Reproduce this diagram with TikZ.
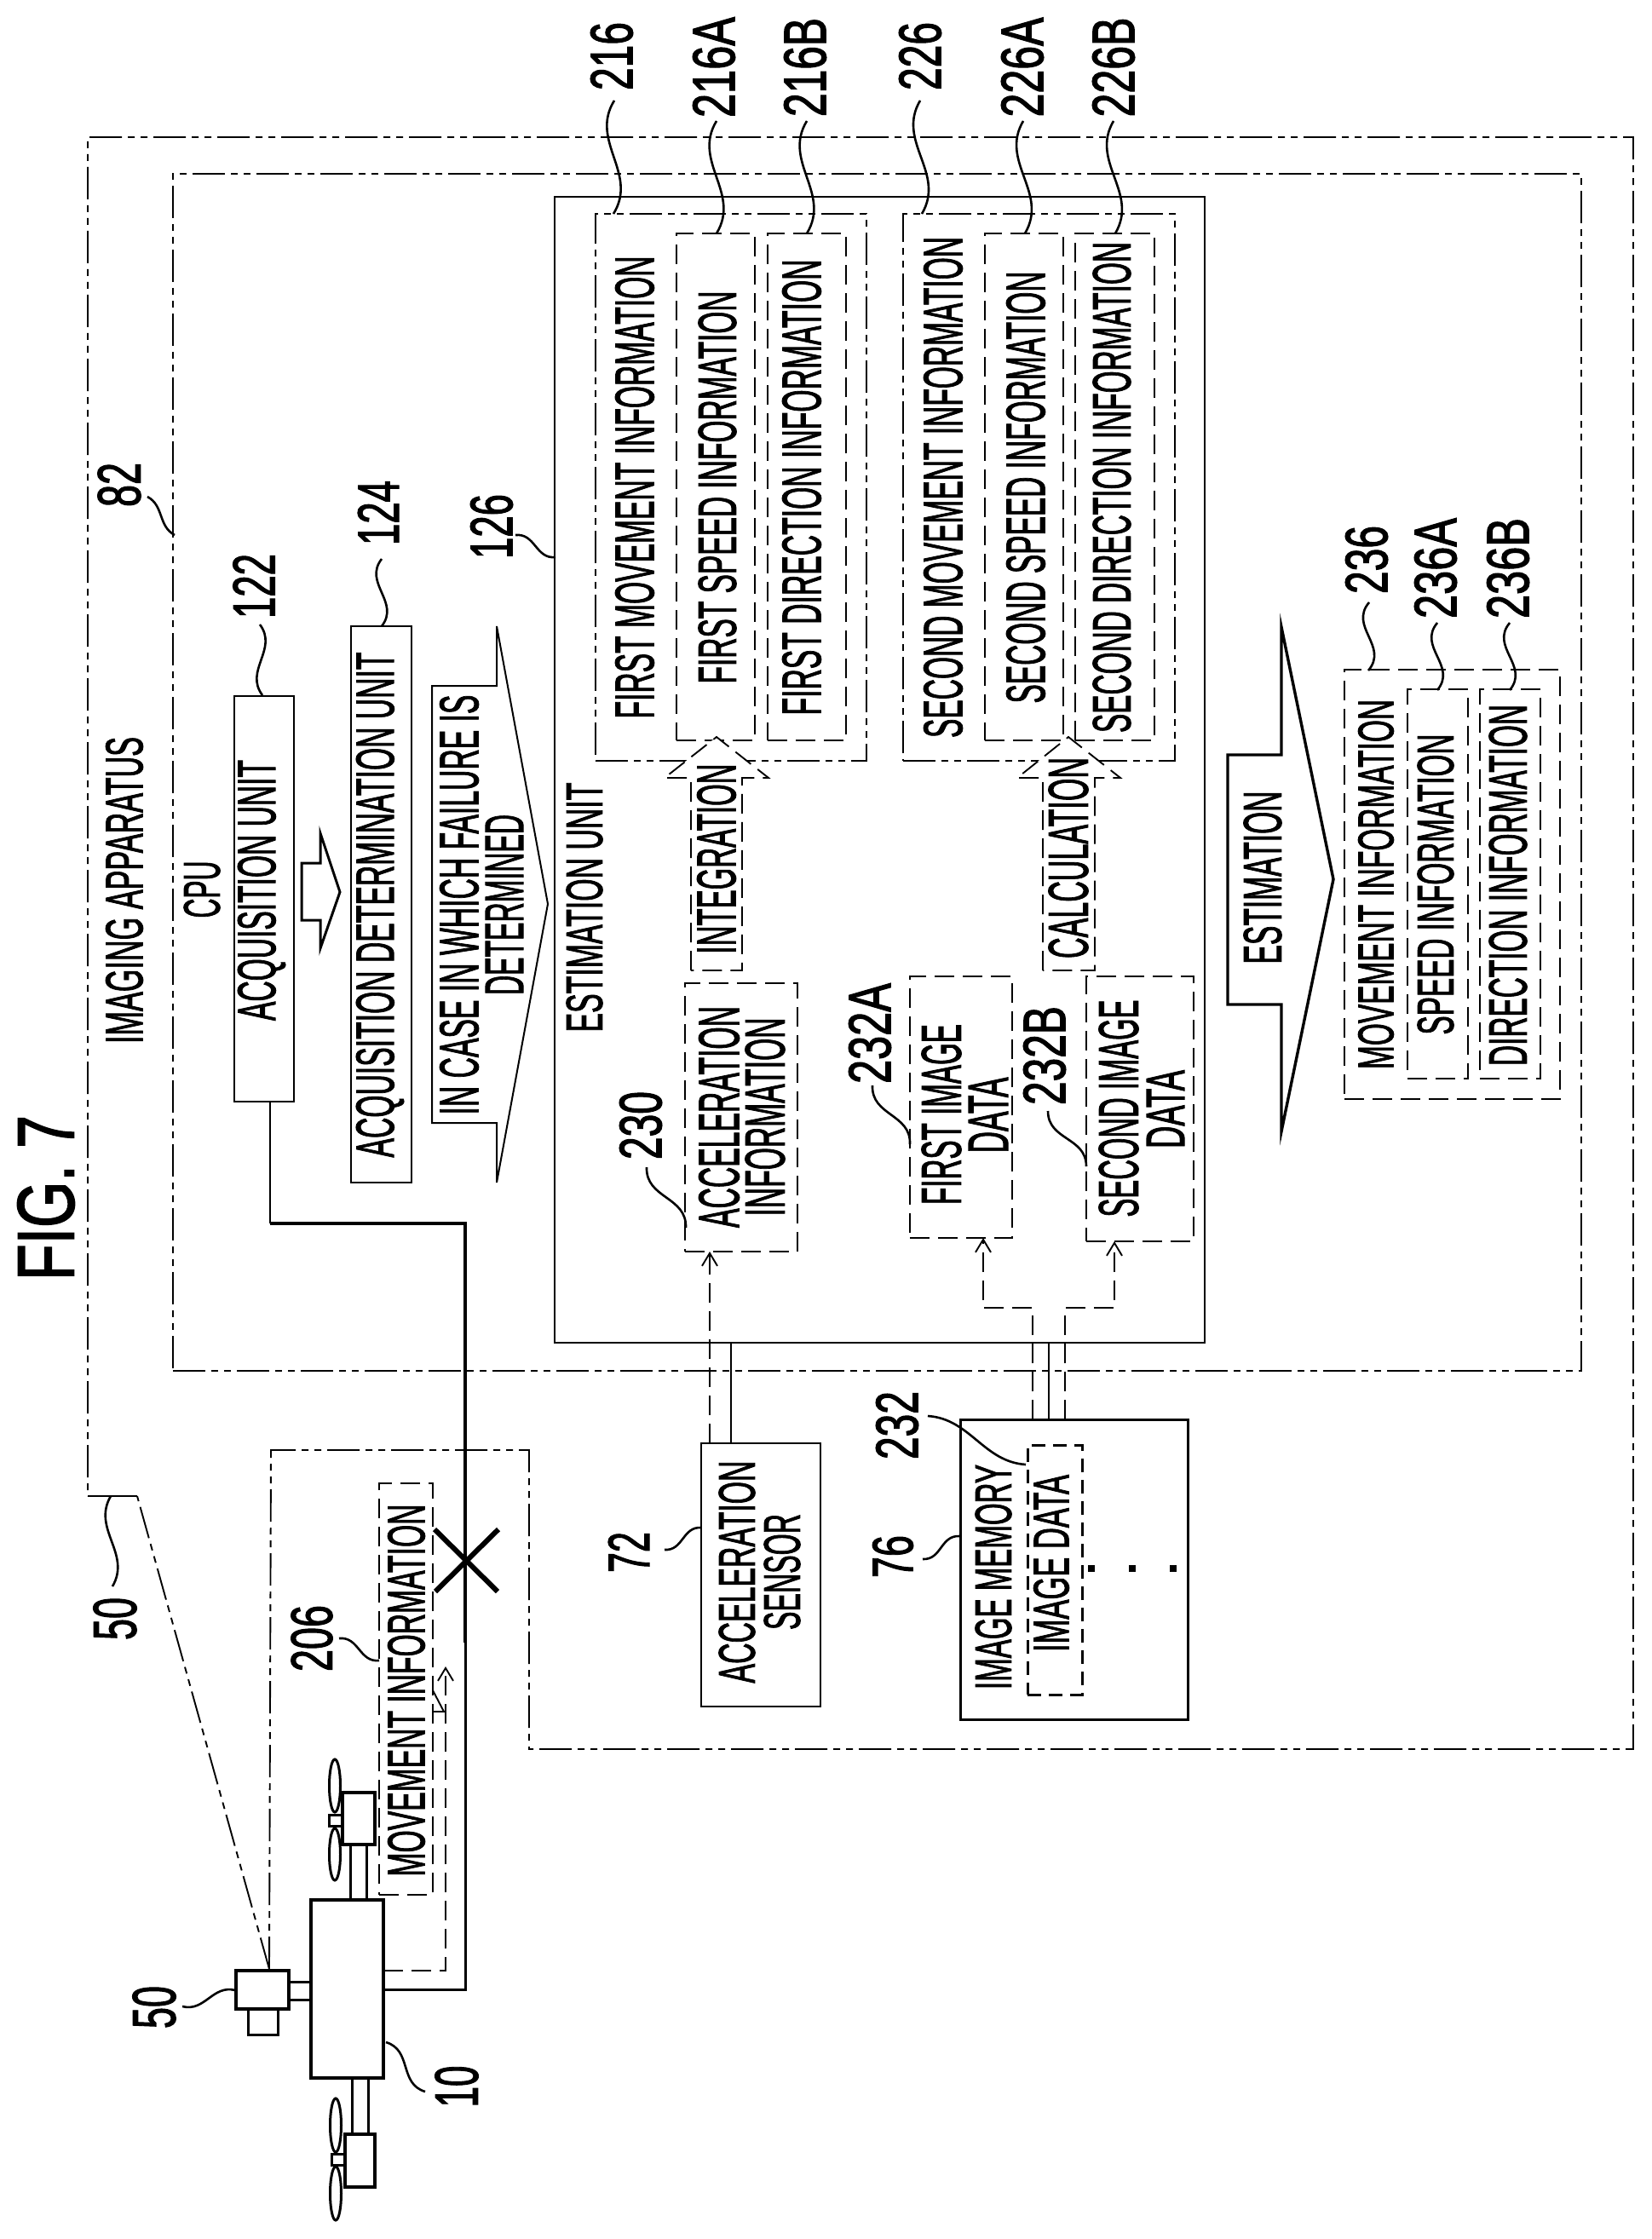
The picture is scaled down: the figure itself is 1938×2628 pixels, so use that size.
\documentclass[tikz,border=0pt]{standalone}
\usepackage{graphicx}
\usepackage{fontspec}
\setmainfont{Liberation Sans}[FakeBold=2]
\usetikzlibrary{arrows.meta}
% text node: name, cx, cy, length, cap height, text (all rotated 90 deg)
\newcommand\tx[6]{\node[txt] (#1) at (#2,#3) {\resizebox{#4pt}{#5pt}{#6}};}
% box node: name, style, x0, y0, x1, y1
\newcommand\bx[6]{\node[boxn,#2,minimum width={(#5-#3)*1pt},minimum height={(#6-#4)*1pt}] (#1) at ({(#3+#5)/2},{(#4+#6)/2}) {};}
% wavy leader: name, x1, y1, x2, y2, bend
\newcommand\ldr[6]{%
  \coordinate (#1-a) at (#2,#3);
  \coordinate (#1-b) at (#4,#5);
  \pgfmathsetmacro\dxx{#4-#2}\pgfmathsetmacro\dyy{#5-#3}
  \draw[leaderln] (#1-a) .. controls ({#2+.36*\dxx-#6*\dyy},{#3+.36*\dyy+#6*\dxx}) and ({#2+.64*\dxx+#6*\dyy},{#3+.64*\dyy-#6*\dxx}) .. (#1-b);}
\tikzset{
  txt/.style={rotate=90,inner sep=0pt,outer sep=0pt,font=\fontsize{60}{60}\selectfont},
  boxn/.style={rectangle,inner sep=0pt,outer sep=0pt,draw,line width=1.9pt},
  leaderln/.style={line width=2.6pt},
  dd/.style={line width=1.9pt,dash pattern=on 38pt off 7pt on 8pt off 7pt on 8pt off 7pt},
  dds/.style={line width=1.9pt,dash pattern=on 38pt off 7pt on 8pt off 7pt on 8pt off 7pt},
  ds/.style={line width=1.9pt,dash pattern=on 23pt off 10pt},
  tipb/.style={-{Straight Barb[length=15pt,width=18pt]}},
  blk/.style={fill=white,line join=miter},
}
\begin{document}
\begin{tikzpicture}[x=1pt,y=-1pt]
\fill[white] (0,0) rectangle (1938,2628);
\useasboundingbox (0,0) rectangle (1938,2628);

% frames
\coordinate (o1) at (103,1756);
\coordinate (o2) at (161,1756);
\coordinate (o3) at (316,2311);
\coordinate (o4) at (318,1702);
\coordinate (o5) at (621,1702);
\coordinate (o6) at (621,2053);
\coordinate (o7) at (1917,2053);
\coordinate (o8) at (1917,161);
\coordinate (o9) at (103,161);
\draw[dd] (o3) -- (o2);
\draw[line width=1.9pt] (o1) -- (o2);
\draw[dd] (o3) -- (o4) -- (o5) -- (o6) -- (o7) -- (o8) -- (o9) -- (o1);
\bx{cpu}{dd}{203}{204}{1856}{1609}
\bx{est}{}{651}{231}{1414}{1576}

% information boxes
\bx{b216}{dds}{699}{251}{1017}{893}
\bx{b216a}{ds}{794}{274}{886}{869}
\bx{b216b}{ds}{901}{274}{993}{869}
\bx{b226}{dds}{1060}{251}{1379}{893}
\bx{b226a}{ds}{1156}{274}{1248}{869}
\bx{b226b}{ds}{1262}{274}{1355}{869}
\bx{b236}{ds}{1578}{786}{1831}{1290}
\bx{b236a}{ds}{1652}{809}{1723}{1266}
\bx{b236b}{ds}{1737}{809}{1808}{1266}
\bx{acc}{ds}{804}{1154}{936}{1469}
\bx{fimg}{ds}{1068}{1146}{1188}{1453}
\bx{simg}{ds}{1275}{1146}{1401}{1457}

% units
\bx{acq}{line width=2.4pt}{275}{817}{345}{1293}
\bx{det}{line width=2.4pt}{412}{735}{483}{1388}
\bx{sensor}{line width=2.4pt}{823}{1694}{963}{2003}
\bx{mem}{line width=3pt}{1127}{1666}{1394}{2018}
\bx{imgd}{line width=3pt,dash pattern=on 16pt off 9pt}{1206}{1696}{1270}{1989}
\fill (1277,1837) rectangle (1285,1845);
\fill (1325,1837) rectangle (1333,1845);
\fill (1373,1837) rectangle (1381,1845);

% block arrows
\draw[blk,line width=3pt] (354,1013) -- (376,1013) -- (376,978) -- (399,1047) -- (376,1113) -- (376,1080) -- (354,1080) -- cycle;
\draw[blk,line width=2pt] (507,805) -- (583,805) -- (583,735) -- (643,1061) -- (583,1388) -- (583,1318) -- (507,1318) -- cycle;
\draw[blk,line width=3.4pt] (1441,886) -- (1504,886) -- (1504,736) -- (1565,1032) -- (1504,1328) -- (1504,1179) -- (1441,1179) -- cycle;
\draw[blk,ds] (811,1139) -- (811,913) -- (780,913) -- (841,865) -- (902,913) -- (871,913) -- (871,1139) -- cycle;
\draw[blk,ds] (1224,1139) -- (1224,913) -- (1194,913) -- (1254,865) -- (1315,913) -- (1285,913) -- (1285,1139) -- cycle;

% connectors
\coordinate (sa) at (833,1694);
\coordinate (sb) at (858,1694);
\draw[ds,tipb] (sa) -- (sa |- acc.south);
\draw[line width=1.9pt] (sb) -- (sb |- est.south);
\coordinate (m1) at (1212,1666);
\coordinate (m2) at (1231,1666);
\coordinate (m3) at (1250,1666);
\coordinate (j1) at (1154,1535);
\coordinate (j2) at (1308,1535);
\draw[ds,tipb] (m1) -- (m1 |- j1) -- (j1) -- (j1 |- fimg.south);
\draw[ds,tipb] (m3) -- (m3 |- j2) -- (j2) -- (j2 |- simg.south);
\draw[line width=1.9pt] (m2) -- (m2 |- est.south);

% drone
\bx{body}{line width=4pt}{365}{2230}{450}{2439}
\bx{cam}{line width=3.4pt}{277}{2313}{339}{2358}
\bx{lens}{line width=3pt}{291}{2358}{326}{2388}
\bx{camarm}{line width=3pt}{339}{2326}{365}{2347}
\bx{mot1}{line width=3.4pt}{402}{2104}{440}{2165}
\bx{arm1}{line width=3pt}{411}{2165}{430}{2230}
\bx{hub1}{line width=3pt}{386}{2130}{402}{2143}
\draw[line width=3pt] (393,2096) ellipse (6.5 and 31);
\draw[line width=3pt] (393,2176.5) ellipse (6.5 and 30.5);
\bx{mot2}{line width=3.4pt}{405}{2505}{440}{2567}
\bx{arm2}{line width=3pt}{413}{2439}{432}{2505}
\bx{hub2}{line width=3pt}{389}{2528}{405}{2541}
\draw[line width=3pt] (394,2494.5) ellipse (6.5 and 31.5);
\draw[line width=3pt] (394,2574.5) ellipse (6.5 and 31.5);

% thick line with failure mark
\coordinate (q1) at (317,1293);
\coordinate (q2) at (317,1436);
\coordinate (q3) at (546,1436);
\coordinate (q4) at (546,1928);
\coordinate (q5) at (546,2335);
\coordinate (q6) at (450,2335);
\draw[line width=2.8pt] (q1) -- (q2);
\draw[line width=4.6pt,line join=miter] (q2) -- (q3) -- (q4);
\draw[line width=3pt,line join=miter] (q4) -- (q5) -- (q6);
\coordinate (x1) at (510,1795);
\coordinate (x2) at (584,1868);
\coordinate (x3) at (511,1868);
\coordinate (x4) at (585,1795);
\draw[line width=6pt] (x1) -- (x2);
\draw[line width=6pt] (x3) -- (x4);

% movement information from drone
\bx{mvinfo}{ds}{445}{1741}{508}{2224}
\coordinate (d1) at (450,2313);
\coordinate (d2) at (523,2313);
\coordinate (d3) at (523,1956);
\draw[ds,tipb] (d1) -- (d2) -- (d3);
\coordinate (z1) at (508,1984);
\coordinate (z2) at (521,2009);
\coordinate (z3) at (508,2009);
\draw[line width=1.9pt] (z1) -- (z2) -- (z3);

% texts
\tx{fig}{54}{1406}{194}{66}{FIG. 7}
\tx{imaging}{146}{1045}{360}{43}{IMAGING APPARATUS}
\tx{cputxt}{237}{1044}{67}{42}{CPU}
\tx{acqtxt}{307}{1045}{306}{44}{ACQUISITION UNIT}
\tx{dettxt}{446}{1062}{593}{44}{ACQUISITION DETERMINATION UNIT}
\tx{fail1}{539}{1062}{493}{45}{IN CASE IN WHICH FAILURE IS}
\tx{fail2}{592}{1062}{212}{44}{DETERMINED}
\tx{esttxt}{686}{1065}{293}{42}{ESTIMATION UNIT}
\tx{t216}{745}{572}{543}{45}{FIRST MOVEMENT INFORMATION}
\tx{t216a}{842}{572}{461}{44}{FIRST SPEED INFORMATION}
\tx{t216b}{941}{572}{535}{45}{FIRST DIRECTION INFORMATION}
\tx{t226}{1107}{572}{588}{45}{SECOND MOVEMENT INFORMATION}
\tx{t226a}{1204}{572}{507}{45}{SECOND SPEED INFORMATION}
\tx{t226b}{1305}{572}{576}{44}{SECOND DIRECTION INFORMATION}
\tx{tint}{841}{1008}{223}{45}{INTEGRATION}
\tx{tcal}{1254}{1007}{236}{46}{CALCULATION}
\tx{tacc1}{844}{1311}{260}{47}{ACCELERATION}
\tx{tacc2}{898}{1311}{233}{46}{INFORMATION}
\tx{tfi1}{1105}{1308}{212}{46}{FIRST IMAGE}
\tx{tfi2}{1160}{1309}{89}{46}{DATA}
\tx{tsi1}{1313}{1301}{255}{46}{SECOND IMAGE}
\tx{tsi2}{1368}{1302}{92}{44}{DATA}
\tx{testim}{1482}{1030}{203}{44}{ESTIMATION}
\tx{t236}{1615}{1038}{434}{41}{MOVEMENT INFORMATION}
\tx{t236a}{1685}{1038}{353}{42}{SPEED INFORMATION}
\tx{t236b}{1770}{1039}{424}{44}{DIRECTION INFORMATION}
\tx{tsen1}{865}{1845}{261}{42}{ACCELERATION}
\tx{tsen2}{918}{1845}{136}{42}{SENSOR}
\tx{tmem}{1166}{1851}{264}{42}{IMAGE MEMORY}
\tx{timg}{1234}{1835}{208}{41}{IMAGE DATA}
\tx{tmv}{477}{1984}{437}{43}{MOVEMENT INFORMATION}

% reference numerals
\tx{n82}{140}{569}{52}{50}{82}
\tx{n122}{298}{688}{76}{49}{122}
\tx{n124}{444}{602}{76}{48}{124}
\tx{n126}{577}{618}{76}{49}{126}
\tx{n216}{718}{66}{80}{49}{216}
\tx{n216a}{838}{79}{118}{49}{216A}
\tx{n216b}{945}{79}{116}{49}{216B}
\tx{n226}{1080}{66}{80}{49}{226}
\tx{n226a}{1200}{79}{117}{49}{226A}
\tx{n226b}{1307}{79}{117}{49}{226B}
\tx{n236}{1604}{657}{80}{49}{236}
\tx{n236a}{1685}{667}{118}{49}{236A}
\tx{n236b}{1770}{667}{118}{49}{236B}
\tx{n230}{752}{1321}{80}{49}{230}
\tx{n232a}{1021}{1213}{118}{49}{232A}
\tx{n232b}{1226}{1239}{116}{49}{232B}
\tx{n232}{1053}{1673}{80}{49}{232}
\tx{n72}{738}{1822}{48}{48}{72}
\tx{n76}{1048}{1827}{50}{47}{76}
\tx{n50a}{135}{1900}{50}{50}{50}
\tx{n50b}{181}{2356}{50}{50}{50}
\tx{n206}{366}{1923}{78}{48}{206}
\tx{n10}{536}{2449}{49}{50}{10}

% leaders
\ldr{l82}{173}{583}{205}{628}{-.18}
\ldr{l122}{305}{733}{308}{816}{-.25}
\ldr{l124}{448}{656}{448}{735}{.28}
\ldr{l126}{605}{628}{652}{654}{-.25}
\ldr{l216}{721}{118}{720}{251}{.22}
\ldr{l216a}{841}{142}{841}{274}{.22}
\ldr{l216b}{947}{142}{947}{274}{.22}
\ldr{l226}{1080}{118}{1082}{251}{.22}
\ldr{l226a}{1201}{142}{1203}{274}{.22}
\ldr{l226b}{1307}{142}{1309}{274}{.22}
\ldr{l236}{1607}{707}{1606}{787}{.3}
\ldr{l236a}{1687}{731}{1687}{810}{.3}
\ldr{l236b}{1772}{731}{1772}{810}{.3}
\ldr{l230}{759}{1370}{805}{1441}{.25}
\ldr{l232a}{1024}{1274}{1068}{1343}{.25}
\ldr{l232b}{1230}{1304}{1275}{1369}{.25}
\ldr{l232}{1089}{1662}{1204}{1719}{-.15}
\ldr{l72}{780}{1819}{823}{1793}{.25}
\ldr{l76}{1083}{1830}{1126}{1803}{.25}
\ldr{l50a}{130}{1756}{132}{1862}{.22}
\ldr{l50b}{214}{2355}{276}{2336}{.22}
\ldr{l206}{398}{1923}{445}{1949}{-.25}
\ldr{l10}{453}{2397}{499}{2455}{-.25}
\end{tikzpicture}
\end{document}
